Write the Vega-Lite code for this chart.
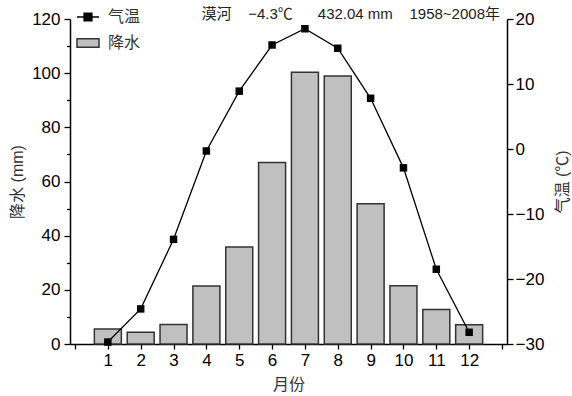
{
  "$schema": "https://vega.github.io/schema/vega-lite/v6.json",
  "width": 437,
  "height": 325,
  "autosize": {"type": "none"},
  "padding": {"left": 70, "top": 19, "right": 65, "bottom": 52},
  "background": "white",
  "title": {
    "text": "漠河\u00a0\u00a0\u00a0\u00a0−4.3℃\u00a0\u00a0\u00a0\u00a0\u00a0\u00a0432.04\u00a0mm\u00a0\u00a0\u00a0\u00a01958~2008年",
    "anchor": "end",
    "frame": "group",
    "orient": "top",
    "offset": -18,
    "dy": 11,
    "baseline": "alphabetic",
    "dx": -7,
    "font": "Liberation Sans, Noto Sans CJK SC",
    "fontSize": 15,
    "fontWeight": "normal",
    "color": "#222"
  },
  "data": {
    "values": [
      {"month": 1, "precip": 5.5, "temp": -29.7},
      {"month": 2, "precip": 4.3, "temp": -24.6},
      {"month": 3, "precip": 7.2, "temp": -13.9},
      {"month": 4, "precip": 21.4, "temp": -0.3},
      {"month": 5, "precip": 35.8, "temp": 8.9},
      {"month": 6, "precip": 67.0, "temp": 16.0},
      {"month": 7, "precip": 100.3, "temp": 18.5},
      {"month": 8, "precip": 99.0, "temp": 15.5},
      {"month": 9, "precip": 51.8, "temp": 7.8},
      {"month": 10, "precip": 21.5, "temp": -2.9},
      {"month": 11, "precip": 12.7, "temp": -18.5},
      {"month": 12, "precip": 7.1, "temp": -28.2}
    ]
  },
  "config": {
    "view": {"stroke": null},
    "axis": {
      "domainColor": "black",
      "domainWidth": 1.5,
      "tickColor": "black",
      "tickWidth": 1.3,
      "grid": false,
      "labelFont": "Liberation Sans",
      "labelFontSize": 17,
      "labelColor": "black",
      "titleFont": "Liberation Sans, Noto Sans CJK SC",
      "titleFontSize": 16,
      "titleFontWeight": "normal",
      "titleColor": "#333"
    }
  },
  "encoding": {
    "x": {
      "field": "month",
      "type": "quantitative",
      "scale": {"domain": [0, 13], "nice": false, "zero": false},
      "axis": {
        "values": [0, 1, 2, 3, 4, 5, 6, 7, 8, 9, 10, 11, 12, 13],
        "labelExpr": "datum.value == 0 || datum.value == 13 ? '' : datum.label",
        "tickSize": 5,
        "labelPadding": 3,
        "title": "月份",
        "titlePadding": 8,
        "labelFlush": false,
        "labelOverlap": false
      }
    }
  },
  "layer": [
    {
      "mark": {"type": "bar", "width": 27, "stroke": "#333", "strokeWidth": 1.5},
      "encoding": {
        "y": {
          "field": "precip",
          "type": "quantitative",
          "scale": {"domain": [0, 120], "nice": false},
          "axis": {
            "orient": "left",
            "values": [0, 10, 20, 30, 40, 50, 60, 70, 80, 90, 100, 110, 120],
            "labelExpr": "datum.value % 20 == 0 ? datum.label : ''",
            "tickSize": {"condition": {"test": "datum.value % 20 == 0", "value": 6}, "value": 3.5},
            "labelPadding": 4,
            "title": "降水 (mm)",
            "titlePadding": 6
          }
        },
        "fill": {
          "datum": "降水",
          "scale": {"range": ["#c0c0c0"]},
          "legend": {
            "orient": "none",
            "legendX": 6,
            "legendY": 12,
            "title": null,
            "symbolType": "M-1,-0.38H1V0.38H-1Z",
            "symbolSize": 484,
            "symbolStrokeColor": "#333",
            "symbolStrokeWidth": 1.5,
            "labelFont": "Noto Sans CJK SC",
            "labelFontSize": 16,
            "labelColor": "#333",
            "labelOffset": 8,
            "padding": 0
          }
        }
      }
    },
    {
      "layer": [
        {
          "mark": {"type": "line", "color": "black", "strokeWidth": 1.3},
          "encoding": {
            "y": {
              "field": "temp",
              "type": "quantitative",
              "scale": {"domain": [-30, 20], "nice": false, "zero": false},
              "axis": {
                "orient": "right",
                "values": [-30, -25, -20, -15, -10, -5, 0, 5, 10, 15, 20],
                "labelExpr": "datum.value % 10 == 0 ? datum.label : ''",
                "tickSize": {"condition": {"test": "datum.value % 10 == 0", "value": 6}, "value": 3.5},
                "labelPadding": 2,
                "title": "气温 (℃)",
                "titleAngle": -90,
                "titlePadding": 27
              }
            },
            "stroke": {
              "datum": "气温",
              "scale": {"range": ["black"]},
              "legend": {
                "orient": "none",
                "legendX": 6,
                "legendY": -14,
                "title": null,
                "symbolType": "M-1,0H1M-0.36,-0.36H0.36V0.36H-0.36Z",
                "symbolSize": 484,
                "symbolFillColor": "black",
                "symbolStrokeWidth": 1.3,
                "labelFont": "Noto Sans CJK SC",
                "labelFontSize": 16,
                "labelColor": "#333",
                "labelOffset": 8,
                "padding": 0
              }
            }
          }
        },
        {
          "mark": {"type": "point", "shape": "square", "filled": true, "color": "black", "size": 56, "opacity": 1},
          "encoding": {
            "y": {"field": "temp", "type": "quantitative"}
          }
        }
      ]
    }
  ],
  "resolve": {"scale": {"y": "independent", "fill": "independent", "stroke": "independent"}}
}
